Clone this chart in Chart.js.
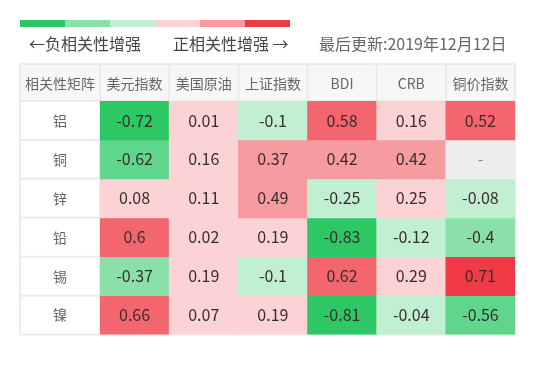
<!DOCTYPE html>
<html>
<head>
<meta charset="utf-8">
<script src="https://cdn.jsdelivr.net/npm/chart.js@4/dist/chart.umd.min.js"></script>
<style>
  html, body { margin: 0; padding: 0; background: #fff; }
  #wrap { width: 536px; height: 376px; }
</style>
</head>
<body>
<div id="wrap"><canvas id="c" width="536" height="376"></canvas></div>
<script>
// ---- data ----
const cornerLabel = '相关性矩阵';
const colLabels = ['美元指数', '美国原油', '上证指数', 'BDI', 'CRB', '铜价指数'];
const rowLabels = ['铝', '铜', '锌', '铅', '锡', '镍'];
const aluminium = [-0.72, 0.01, -0.1, 0.58, 0.16, 0.52];
const copper    = [-0.62, 0.16, 0.37, 0.42, 0.42, null];
const zinc      = [0.08, 0.11, 0.49, -0.25, 0.25, -0.08];
const lead      = [0.6, 0.02, 0.19, -0.83, -0.12, -0.4];
const tin       = [-0.37, 0.19, -0.1, 0.62, 0.29, 0.71];
const nickel    = [0.66, 0.07, 0.19, -0.81, -0.04, -0.56];
const rowValues = [aluminium, copper, zinc, lead, tin, nickel];

const legendColors = ['#2dc765', '#8be0a9', '#c1efd1', '#fbd3d4', '#f69ca0', '#f03a45'];
const negText = '←负相关性增强';
const posText = '正相关性增强 →';
const updateText = '最后更新:2019年12月12日';

// colour bins (upper bound exclusive except last)
const binEdges  = [-0.7, -0.5, -0.3, 0, 0.3, 0.5, 0.7];
const binColors = ['#2dc765', '#5fd68b', '#8be0a9', '#c1efd1', '#fbd3d4', '#f69ca0', '#f3666d', '#f03a45'];
const missingColor = '#eeeeee';

function colorFor(v) {
  if (v === null || v === undefined) return missingColor;
  let i = 0;
  while (i < binEdges.length && v >= binEdges[i] + (binEdges[i] < 0 ? 1e-9 : 0)) i++;
  // negative bins: v <= -0.7 darkest etc.
  return binColors[i];
}

const FONT = '"Noto Sans CJK SC", "Noto Sans", sans-serif';

const datasets = rowValues.map((vals, r) => ({
  label: rowLabels[r],
  data: vals.map(() => [r - 0.5, r + 0.5]),
  values: vals,
  backgroundColor: vals.map(colorFor),
  borderWidth: 0,
  borderSkipped: false,
  grouped: false,
  barPercentage: 1,
  categoryPercentage: 1
}));

const tablePlugin = {
  id: 'tableGrid',
  beforeDraw(chart) {
    const { ctx, scales: { x, y } } = chart;
    const left = y.left, right = x.right, top = x.top, headBottom = x.bottom, bottom = y.bottom;
    ctx.save();
    ctx.fillStyle = '#ffffff';
    ctx.fillRect(0, 0, chart.width, chart.height);
    ctx.fillStyle = '#f7f7f7';
    ctx.fillRect(left, top, right - left, headBottom - top);
    ctx.strokeStyle = '#ebebeb';
    ctx.lineWidth = 2;
    const half = (x.getPixelForValue(1) - x.getPixelForValue(0)) / 2;
    const xs = [left].concat(colLabels.map((_, i) => x.getPixelForValue(i) - half), [right]);
    xs.forEach(px => { ctx.beginPath(); ctx.moveTo(px, top); ctx.lineTo(px, bottom); ctx.stroke(); });
    const ys = [top, headBottom].concat(rowLabels.map((_, i) => y.getPixelForValue(i + 0.5)));
    ys.forEach(py => { ctx.beginPath(); ctx.moveTo(left, py); ctx.lineTo(right, py); ctx.stroke(); });
    // corner header text
    ctx.fillStyle = '#666';
    ctx.font = '14px ' + FONT;
    ctx.textAlign = 'center';
    ctx.textBaseline = 'middle';
    ctx.fillText(cornerLabel, (left + x.left) / 2, (top + headBottom) / 2 + 1);
    // legend bar
    const segW = 45, segH = 7, lx = 20, ly = 20;
    legendColors.forEach((c, i) => { ctx.fillStyle = c; ctx.fillRect(lx + i * segW, ly, segW, segH); });
    ctx.font = '16px ' + FONT;
    ctx.textAlign = 'left';
    ctx.fillStyle = '#444';
    ctx.fillText(negText, 29, 44);
    ctx.fillText(posText, 173, 44);
    ctx.fillStyle = '#666';
    ctx.fillText(updateText, 319, 44);
    ctx.restore();
  },
  afterDatasetsDraw(chart) {
    const { ctx } = chart;
    ctx.save();
    ctx.font = '16px ' + FONT;
    ctx.textAlign = 'center';
    ctx.textBaseline = 'middle';
    chart.data.datasets.forEach((ds, di) => {
      const meta = chart.getDatasetMeta(di);
      meta.data.forEach((el, i) => {
        const v = ds.values[i];
        const p = el.getCenterPoint();
        ctx.fillStyle = v === null ? '#888' : '#3b2c2c';
        ctx.fillText(v === null ? '-' : String(v), p.x, p.y);
      });
    });
    ctx.restore();
  }
};

new Chart(document.getElementById('c'), {
  type: 'bar',
  data: { labels: colLabels, datasets },
  options: {
    responsive: false,
    animation: false,
    devicePixelRatio: 1,
    layout: { padding: { left: 20, right: 21, top: 64, bottom: 29 } },
    plugins: { legend: { display: false }, tooltip: { enabled: false } },
    scales: {
      x: {
        type: 'category',
        position: 'top',
        offset: true,
        grid: { display: false, drawTicks: false },
        border: { display: false },
        ticks: { color: '#666', font: { size: 14, family: FONT }, padding: 9, maxRotation: 0, autoSkip: false },
        afterFit(s) { s.height = 37; }
      },
      y: {
        type: 'linear',
        reverse: true,
        min: -0.5,
        max: 5.5,
        grid: { display: false, drawTicks: false },
        border: { display: false },
        afterBuildTicks(s) { s.ticks = rowLabels.map((_, i) => ({ value: i })); },
        ticks: { color: '#666', font: { size: 14, family: FONT }, padding: 33, autoSkip: false,
                 callback: v => rowLabels[v] },
        afterFit(s) { s.width = 80; }
      }
    }
  },
  plugins: [tablePlugin]
});
</script>
</body>
</html>
